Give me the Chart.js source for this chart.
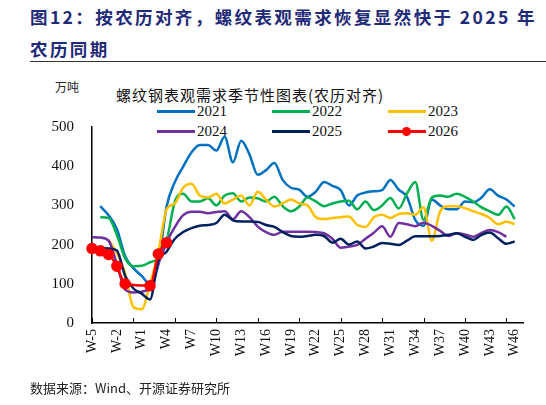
<!DOCTYPE html>
<html><head><meta charset="utf-8">
<script src="https://cdn.jsdelivr.net/npm/chart.js@4/dist/chart.umd.min.js"></script>
<style>
body{margin:0;width:546px;height:405px;background:#fff;position:relative;overflow:hidden;font-family:"Noto Sans CJK SC";}
.t{position:absolute;left:30px;color:#1F2A78;font-weight:bold;font-size:17.5px;letter-spacing:2.4px;white-space:nowrap}
#rule{position:absolute;left:30px;top:61px;width:516px;height:1px;background:#333}
#unit{position:absolute;left:55px;top:78px;font-size:12px;color:#222}
#ct{position:absolute;left:116px;top:84px;font-size:15px;color:#111;letter-spacing:1px;white-space:nowrap}
.lg{position:absolute;font-family:"Liberation Serif";font-size:15px;color:#111;line-height:15px;padding-left:40px}
.lg i{position:absolute;left:0;top:6px;width:38px;height:3px}
.lg b{position:absolute;left:14px;top:3px;width:9px;height:9px;border-radius:50%;background:#FF0000}
#src{position:absolute;left:30px;top:378px;font-size:13px;color:#222}
#wrap{position:absolute;left:0;top:100px;width:546px;height:280px}
</style></head><body>
<div class="t" style="top:4px">图12：按农历对齐，螺纹表观需求恢复显然快于 2025 年</div>
<div class="t" style="top:36px">农历同期</div>
<div id="rule"></div>
<div id="unit">万吨</div>
<div id="ct">螺纹钢表观需求季节性图表(农历对齐)</div>
<div id="legend"></div>
<div id="wrap"><canvas id="c" width="546" height="280"></canvas></div>
<div id="src">数据来源：Wind、开源证券研究所</div>
<script>
const weeks=[];for(let w=-5;w<=47;w++){weeks.push('W'+w);}
const y2021=[null,298,275,240,170,140,120,100,150,297,360,399,435,454,454,440,475,410,465,430,378,390,408,365,345,340,322,335,360,350,339,300,325,333,336,339,365,340,322,263,248,315,300,290,290,310,308,320,341,325,315,297];
const y2022=[null,270,268,225,165,145,146,155,165,210,310,330,310,310,318,300,325,331,310,320,318,310,322,298,285,297,320,310,298,305,310,312,290,310,288,300,319,292,330,360,263,320,325,322,330,322,310,295,285,276,297,265];
const y2023=[null,null,212,178,127,40,35,100,180,290,305,345,355,325,320,330,305,315,325,300,335,315,297,305,315,305,300,270,265,268,270,272,250,245,270,276,268,278,280,276,295,210,285,298,298,293,285,278,268,252,258,252];
const y2024=[219,218,210,150,85,78,80,90,150,205,245,275,284,284,280,283,285,265,285,270,246,232,225,233,233,233,233,232,229,215,192,195,199,215,230,247,220,255,252,247,256,248,235,222,229,226,220,230,237,232,220];
const y2025=[195,192,190,185,120,88,75,60,160,182,215,232,242,248,250,255,276,262,259,259,258,250,245,232,222,220,222,225,222,205,215,200,208,190,195,204,202,199,210,221,221,221,222,225,229,220,212,225,231,216,202,208];
const y2026=[190,184,175,145,100,null,null,95,176,205];
const names=['2021','2022','2023','2024','2025','2026'];
const colors=['#0070C0','#00B050','#FFC000','#7030A0','#002060','#FF0000'];
const series=[y2021,y2022,y2023,y2024,y2025,y2026];
const lpos=[[157,104],[272,104],[388,104],[157,124],[272,124],[388,124]];
let lh='';names.forEach((n,k)=>{lh+=`<div class="lg" style="left:${lpos[k][0]}px;top:${lpos[k][1]}px"><i style="background:${colors[k]}"></i>${k===5?'<b></b>':''}${n}</div>`;});
document.getElementById('legend').innerHTML=lh;
const tickPlugin={id:'tk',afterDraw(ch){const x=ch.scales.x,c=ch.ctx,y0=ch.chartArea.bottom;c.save();c.strokeStyle='#000';c.lineWidth=1;for(let i=0;i<=weeks.length;i+=5){const px=Math.round(x.getPixelForValue(i))+0.5;c.beginPath();c.moveTo(px,y0);c.lineTo(px,y0-5);c.stroke();}c.restore();}};
new Chart(document.getElementById('c'),{type:'line',
data:{labels:weeks,datasets:series.map((d,k)=>({label:names[k],data:d,borderColor:colors[k],backgroundColor:colors[k],borderWidth:2.5,tension:0.4,cubicInterpolationMode:'monotone',pointRadius:k===5?4.5:0,spanGaps:true,order:k===5?0:6-k}))},
options:{responsive:false,animation:false,layout:{padding:{top:27,right:23,left:0,bottom:0}},
plugins:{legend:{display:false},tooltip:{enabled:false}},
scales:{
x:{offset:false,grid:{display:false,drawTicks:false},border:{color:'#000',width:1.5},
ticks:{autoSkip:false,maxRotation:90,minRotation:90,padding:6,color:'#111',font:{family:'Liberation Serif',size:14},callback:(v,i)=>(i%3===0&&i<=51)?weeks[i]:''},
afterFit:s=>{s.height=57;}},
y:{min:0,max:500,grid:{display:false,drawTicks:false},border:{color:'#000',width:1.5},
ticks:{stepSize:100,padding:18,color:'#111',font:{family:'Liberation Serif',size:15}},
afterFit:s=>{s.width=92;}}}},
plugins:[tickPlugin]});
</script></body></html>
